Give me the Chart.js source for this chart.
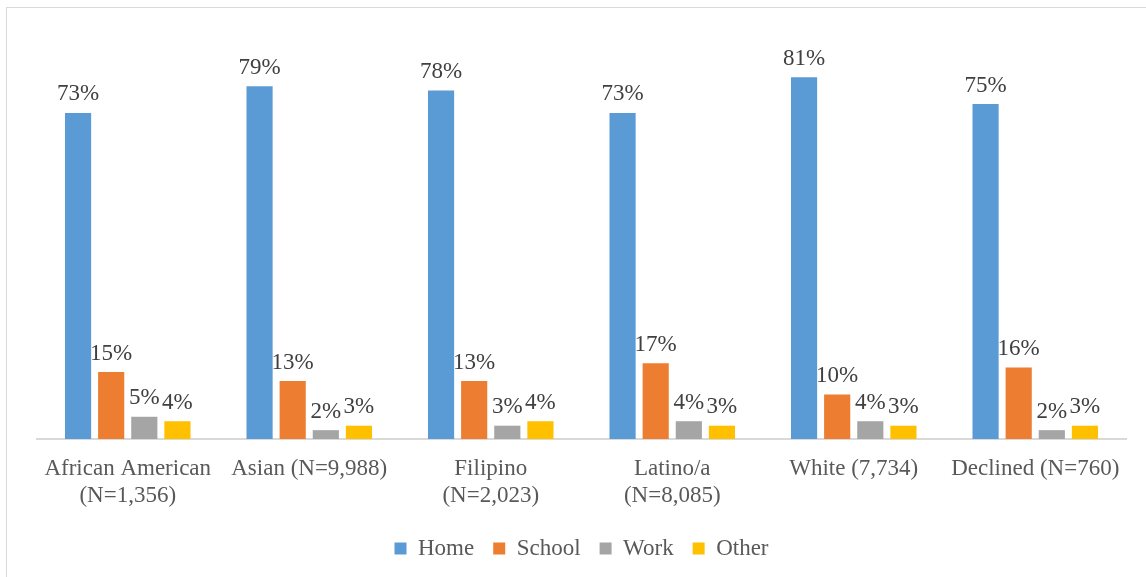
<!DOCTYPE html>
<html>
<head>
<meta charset="utf-8">
<script src="https://cdn.jsdelivr.net/npm/chart.js@4"></script>
<style>
  body { margin: 0; background: #fff; }
  #frame { position: absolute; left: 6px; top: 7px; width: 1200px; height: 700px; border: 1px solid #d9d9d9; }
  #wrap { position: absolute; left: 0; top: 0; width: 1146px; height: 577px; }
</style>
</head>
<body>
<div id="frame"></div>
<div id="wrap"><canvas id="chart"></canvas></div>
<script>
const groups = [
    ['African American', '(N=1,356)'],
    'Asian (N=9,988)',
    ['Filipino', '(N=2,023)'],
    ['Latino/a', '(N=8,085)'],
    'White (7,734)',
    'Declined (N=760)'
];
const seriesNames = ['Home', 'School', 'Work', 'Other'];
const home = [73, 79, 78, 73, 81, 75];
const school = [15, 13, 13, 17, 10, 16];
const work = [5, 2, 3, 4, 4, 2];
const other = [4, 3, 4, 3, 3, 3];
const colors = ['#5B9BD5', '#ED7D31', '#A5A5A5', '#FFC000'];

const serif = '"Liberation Serif", "Times New Roman", serif';

// percent labels above every bar
const barLabels = {
    id: 'barLabels',
    afterDatasetsDraw(chart) {
        const ctx = chart.ctx;
        ctx.save();
        ctx.font = '23px ' + serif;
        ctx.fillStyle = '#404040';
        ctx.textAlign = 'center';
        ctx.textBaseline = 'bottom';
        chart.data.datasets.forEach((ds, i) => {
            chart.getDatasetMeta(i).data.forEach((bar, j) => {
                ctx.fillText(ds.data[j] + '%', bar.x, bar.y - 7);
            });
        });
        ctx.restore();
    }
};

const allSeries = [home, school, work, other];
const datasets = allSeries.map((vals, i) => ({
    label: seriesNames[i],
    data: vals,
    backgroundColor: colors[i],
    categoryPercentage: 0.73,
    barPercentage: 0.79
}));

let ctx = document.getElementById('chart').getContext('2d');
let chart = new Chart(ctx, {
    type: 'bar',
    data: { labels: groups, datasets: datasets },
    options: {
        responsive: true,
        maintainAspectRatio: false,
        animation: false,
        layout: { padding: { left: 37, right: 20, top: 37, bottom: 7 } },
        plugins: {
            tooltip: { enabled: false },
            legend: {
                position: 'bottom',
                labels: {
                    boxWidth: 12,
                    boxHeight: 12,
                    padding: 19,
                    color: '#595959',
                    font: { family: serif, size: 23 }
                }
            }
        },
        scales: {
            x: {
                grid: { display: false },
                border: { color: '#d9d9d9', width: 2 },
                ticks: {
                    color: '#595959',
                    padding: 9,
                    maxRotation: 0,
                    autoSkip: false,
                    font: { family: serif, size: 23, lineHeight: 1.15 }
                }
            },
            y: {
                display: false,
                min: 0,
                max: 90
            }
        }
    },
    plugins: [barLabels]
});
</script>
</body>
</html>
